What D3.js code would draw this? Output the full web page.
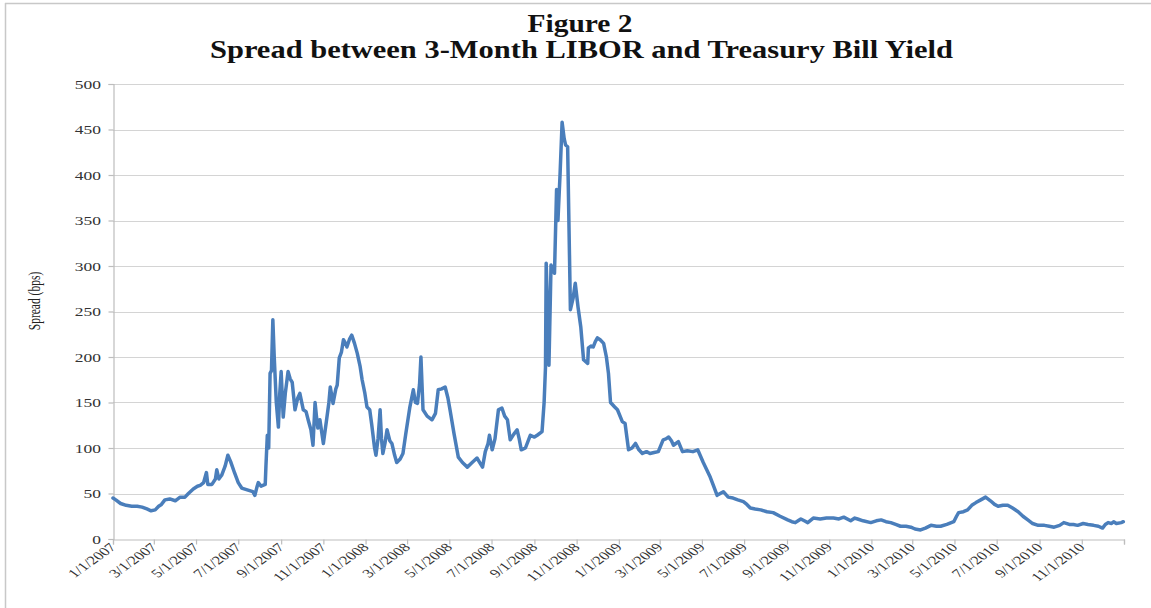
<!DOCTYPE html>
<html>
<head>
<meta charset="utf-8">
<script src="https://cdn.jsdelivr.net/npm/d3@7"></script>
<style>
  html, body { margin: 0; padding: 0; background: #fff; }
  svg { display: block; }
</style>
</head>
<body>
<svg id="chart" width="1151" height="608"></svg>
<script>
// ---- DATA ----
const titleLines = ["Figure 2", "Spread between 3-Month LIBOR and Treasury Bill Yield"];
const yAxisTitle = "Spread (bps)";
const yTicks = [0, 50, 100, 150, 200, 250, 300, 350, 400, 450, 500];
const xTickLabels = ["1/1/2007","3/1/2007","5/1/2007","7/1/2007","9/1/2007","11/1/2007",
  "1/1/2008","3/1/2008","5/1/2008","7/1/2008","9/1/2008","11/1/2008",
  "1/1/2009","3/1/2009","5/1/2009","7/1/2009","9/1/2009","11/1/2009",
  "1/1/2010","3/1/2010","5/1/2010","7/1/2010","9/1/2010","11/1/2010"];
const xAxisEnd = "1/1/2011";

const dates = [
"2007-01-01","2007-01-05","2007-01-12","2007-01-20","2007-01-28","2007-02-05","2007-02-12","2007-02-19","2007-02-25","2007-03-03",
"2007-03-08","2007-03-12","2007-03-17","2007-03-24","2007-04-01","2007-04-08","2007-04-15","2007-04-20","2007-04-27","2007-05-03",
"2007-05-07","2007-05-12","2007-05-16","2007-05-18","2007-05-24","2007-05-29","2007-05-31","2007-06-03","2007-06-07","2007-06-12",
"2007-06-16","2007-06-20","2007-06-26","2007-07-01","2007-07-06","2007-07-14","2007-07-22","2007-07-25","2007-07-28","2007-07-30",
"2007-08-03","2007-08-09","2007-08-10","2007-08-12","2007-08-14","2007-08-16","2007-08-18","2007-08-20","2007-08-22","2007-08-25",
"2007-08-28","2007-08-30","2007-09-01","2007-09-03","2007-09-04","2007-09-07","2007-09-11","2007-09-14","2007-09-17","2007-09-21",
"2007-09-25","2007-09-28","2007-10-03","2007-10-07","2007-10-10","2007-10-14","2007-10-17","2007-10-20","2007-10-22","2007-10-24",
"2007-10-27","2007-11-01","2007-11-06","2007-11-09","2007-11-11","2007-11-15","2007-11-19","2007-11-21","2007-11-24","2007-11-27",
"2007-11-30","2007-12-03","2007-12-05","2007-12-09","2007-12-12","2007-12-16","2007-12-20","2007-12-24","2007-12-27","2007-12-31",
"2008-01-03","2008-01-07","2008-01-10","2008-01-14","2008-01-16","2008-01-19","2008-01-22","2008-01-24","2008-01-26","2008-01-29",
"2008-02-01","2008-02-05","2008-02-08","2008-02-12","2008-02-15","2008-02-20","2008-02-24","2008-02-28","2008-03-05","2008-03-10",
"2008-03-13","2008-03-16","2008-03-19","2008-03-21","2008-03-24","2008-03-30","2008-04-06","2008-04-11","2008-04-15","2008-04-20",
"2008-04-25","2008-04-29","2008-05-02","2008-05-08","2008-05-14","2008-05-20","2008-05-27","2008-06-03","2008-06-10","2008-06-14",
"2008-06-18","2008-06-22","2008-06-26","2008-06-28","2008-07-02","2008-07-06","2008-07-11","2008-07-16","2008-07-20","2008-07-24",
"2008-07-28","2008-08-02","2008-08-07","2008-08-10","2008-08-13","2008-08-19","2008-08-26","2008-09-01","2008-09-05","2008-09-12",
"2008-09-15","2008-09-17","2008-09-18","2008-09-20","2008-09-22","2008-09-25","2008-09-30","2008-10-03","2008-10-05","2008-10-08",
"2008-10-11","2008-10-14","2008-10-16","2008-10-19","2008-10-23","2008-10-27","2008-10-30","2008-11-03","2008-11-07","2008-11-11",
"2008-11-17","2008-11-18","2008-11-22","2008-11-25","2008-11-28","2008-12-01","2008-12-05","2008-12-10","2008-12-14","2008-12-17",
"2008-12-20","2008-12-26","2008-12-30","2009-01-06","2009-01-10","2009-01-15","2009-01-20","2009-01-25","2009-01-30","2009-02-04",
"2009-02-10","2009-02-15","2009-02-21","2009-02-27","2009-03-06","2009-03-10","2009-03-14","2009-03-18","2009-03-21","2009-03-28",
"2009-04-03","2009-04-10","2009-04-18","2009-04-25","2009-05-03","2009-05-08","2009-05-13","2009-05-18","2009-05-23","2009-06-01",
"2009-06-08","2009-06-15","2009-06-22","2009-06-30","2009-07-05","2009-07-10","2009-07-17","2009-07-25","2009-08-03","2009-08-12",
"2009-08-22","2009-09-02","2009-09-08","2009-09-13","2009-09-17","2009-09-21","2009-09-26","2009-10-01","2009-10-09","2009-10-19",
"2009-10-28","2009-11-07","2009-11-15","2009-11-22","2009-12-02","2009-12-08","2009-12-12","2009-12-20","2009-12-31","2010-01-08",
"2010-01-15","2010-01-22","2010-01-29","2010-02-05","2010-02-12","2010-02-20","2010-02-27","2010-03-05","2010-03-13","2010-03-20",
"2010-03-28","2010-04-05","2010-04-11","2010-04-20","2010-04-30","2010-05-04","2010-05-07","2010-05-14","2010-05-20","2010-05-26",
"2010-06-01","2010-06-08","2010-06-15","2010-06-22","2010-06-28","2010-07-03","2010-07-10","2010-07-17","2010-07-24","2010-08-01",
"2010-08-08","2010-08-15","2010-08-22","2010-08-30","2010-09-08","2010-09-15","2010-09-22","2010-09-30","2010-10-06","2010-10-14",
"2010-10-20","2010-10-26","2010-11-03","2010-11-10","2010-11-18","2010-11-25","2010-12-01","2010-12-05","2010-12-09","2010-12-14",
"2010-12-17","2010-12-21","2010-12-28","2010-12-31"
];
const spread = [
45,43,39,37,36,36,35,33,31,32,
36,38,43,44,42,46,46,50,55,58,
59,62,73,60,60,66,76,66,70,80,
92,85,72,62,56,54,52,48,57,62,
58,60,80,114,100,182,185,241,200,150,
123,160,184,150,134,160,184,176,172,142,
155,160,142,140,131,120,103,150,135,122,
131,105,133,150,167,149,165,169,199,205,
219,215,211,220,224,215,204,190,175,160,
145,142,125,100,92,110,142,110,94,105,
120,108,105,92,84,88,94,115,145,164,
150,149,170,200,142,135,131,138,164,165,
167,155,142,115,90,84,79,84,89,84,
79,96,105,114,98,110,142,144,135,131,
109,115,120,110,98,100,114,112,114,118,
150,189,303,250,191,301,292,384,350,400,
458,440,433,431,252,265,281,255,233,197,
193,210,212,211,217,221,219,215,200,182,
150,145,142,129,127,98,100,105,98,94,
96,94,95,96,109,110,112,108,103,107,
96,97,96,98,84,76,68,58,48,52,
46,45,43,41,38,34,33,32,30,29,
25,21,19,18,20,22,20,18,23,22,
23,23,22,24,20,23,22,20,18,20,
21,19,18,16,14,14,13,11,10,12,
15,14,14,16,19,25,29,30,32,37,
40,43,46,42,38,36,37,37,34,30,
25,21,17,15,15,14,13,15,18,16,
16,15,17,16,15,14,12,16,18,17,
19,17,18,19
];

// ---- CHART ----
const svg = d3.select("#chart");
const W = 1151, H = 608;
const plot = { left: 113, right: 1124, top: 84, bottom: 539 };
const STRETCH = 1.4;
const serif = "'Liberation Serif', 'Times New Roman', serif";

const parseISO = d3.timeParse("%Y-%m-%d");
const parseMDY = d3.timeParse("%m/%d/%Y");

const x = d3.scaleTime()
  .domain([parseMDY(xTickLabels[0]), parseMDY(xAxisEnd)])
  .range([plot.left, plot.right]);
const y = d3.scaleLinear().domain([0, 500]).range([plot.bottom, plot.top]);

// frame
svg.append("line").attr("x1", 5.5).attr("x2", 5.5).attr("y1", 3).attr("y2", H)
  .attr("stroke", "#c8c8c8").attr("stroke-width", 1.5);
svg.append("line").attr("x1", 5).attr("x2", W).attr("y1", 3.5).attr("y2", 3.5)
  .attr("stroke", "#c8c8c8").attr("stroke-width", 1.5);

// title
svg.append("text").attr("x", 580).attr("y", 32)
  .attr("text-anchor", "middle").attr("font-family", serif)
  .attr("font-weight", "bold").attr("font-size", 25)
  .attr("textLength", 105).attr("lengthAdjust", "spacingAndGlyphs")
  .attr("fill", "#111").text(titleLines[0]);
svg.append("text").attr("x", 581.5).attr("y", 58)
  .attr("text-anchor", "middle").attr("font-family", serif)
  .attr("font-weight", "bold").attr("font-size", 25)
  .attr("textLength", 743).attr("lengthAdjust", "spacingAndGlyphs")
  .attr("fill", "#111").text(titleLines[1]);

// gridlines
svg.append("g").selectAll("line").data(yTicks.filter(d => d > 0)).join("line")
  .attr("x1", plot.left).attr("x2", plot.right)
  .attr("y1", d => Math.round(y(d)) + 0.5).attr("y2", d => Math.round(y(d)) + 0.5)
  .attr("stroke", "#d4d4d4").attr("stroke-width", 1.2);

// y axis
const yAxis = d3.axisLeft(y).tickValues(yTicks).tickSize(5).tickFormat("");
const yg = svg.append("g").attr("transform", `translate(${plot.left + 0.5},0)`).call(yAxis);
yg.selectAll("path, line").attr("stroke", "#bdbdbd").attr("stroke-width", 1.2);
svg.append("g").selectAll("text").data(yTicks).join("text")
  .attr("transform", d => `translate(101,${y(d) + 4.5}) scale(${STRETCH},1)`)
  .attr("text-anchor", "end").attr("font-family", serif).attr("font-size", 12.5)
  .attr("fill", "#333").text(d => d);

// x axis
const tickDates = xTickLabels.map(parseMDY).concat([parseMDY(xAxisEnd)]);
const xAxis = d3.axisBottom(x).tickValues(tickDates).tickSize(5).tickFormat("");
const xg = svg.append("g").attr("transform", `translate(0,${plot.bottom + 0.5})`).call(xAxis);
xg.selectAll("path, line").attr("stroke", "#bdbdbd").attr("stroke-width", 1.2);
svg.append("g").selectAll("text").data(xTickLabels).join("text")
  .attr("transform", d => `translate(${x(parseMDY(d)) + 4},${plot.bottom + 9}) scale(${STRETCH},1) rotate(-45)`)
  .attr("text-anchor", "end").attr("font-family", serif).attr("font-size", 12)
  .attr("fill", "#333").text(d => d);

// y axis title
svg.append("text")
  .attr("transform", `translate(40,301) scale(${STRETCH},1) rotate(-90)`)
  .attr("text-anchor", "middle").attr("font-family", serif).attr("font-size", 11.5)
  .attr("fill", "#222").text(yAxisTitle);

// line
const series = dates.map((d, i) => ({ date: parseISO(d), value: spread[i] }));
const line = d3.line().x(d => x(d.date)).y(d => y(d.value));
svg.append("path").datum(series)
  .attr("d", line).attr("fill", "none")
  .attr("stroke", "#4a7ebb").attr("stroke-width", 3.5)
  .attr("stroke-linejoin", "round").attr("stroke-linecap", "round");
</script>
</body>
</html>
